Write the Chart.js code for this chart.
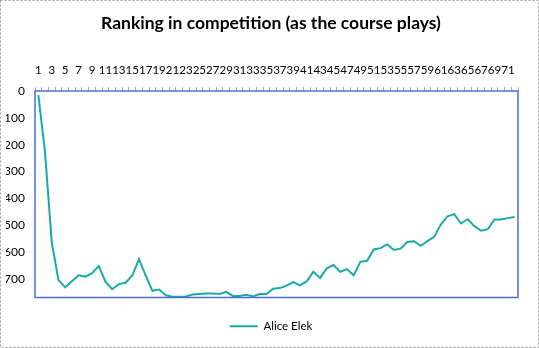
<!DOCTYPE html>
<html>
<head>
<meta charset="utf-8">
<script src="https://cdn.jsdelivr.net/npm/chart.js@4/dist/chart.umd.min.js"></script>
<style>
    html, body { margin: 0; padding: 0; background: #fff; }
    #wrap { width: 539px; height: 348px; position: relative; }
</style>
</head>
<body>
<div id="wrap"><canvas id="rankChart" width="539" height="348"></canvas></div>
<script>
// round number of each competition day
const rounds = Array.from({ length: 72 }, (_, i) => String(i + 1));

// ranking after each round (lower on the chart = worse)
const ranking = [
    15, 230, 565, 705, 732, 709, 687, 692, 679, 653,
    711, 739, 720, 715, 688, 627, 688, 745, 740, 762,
    767, 767, 766, 759, 757, 755, 755, 757, 749, 764,
    764, 760, 766, 757, 757, 737, 735, 726, 713, 725,
    710, 674, 697, 661, 649, 674, 664, 687, 637, 633,
    591, 586, 572, 593, 588, 563, 560, 577, 560, 544,
    498, 467, 459, 494, 478, 504, 521, 515, 479, 479,
    474, 470
];

const yTicks = [0, 100, 200, 300, 400, 500, 600, 700];
const yMax = 770;

const lineColor = '#1aaba7';
const fontFamily = 'Lato, "Open Sans", sans-serif';

// plot frame + dashed outer border like the spreadsheet export
const framePlugin = {
    id: 'frame',
    afterDatasetsDraw(chart) {
        const { ctx, chartArea: a } = chart;
        ctx.save();
        ctx.strokeStyle = '#4a6fd6';
        ctx.lineWidth = 1.5;
        ctx.strokeRect(a.left, a.top, a.right - a.left, a.bottom - a.top);
        ctx.restore();
    },
    afterDraw(chart) {
        const { ctx, width, height } = chart;
        ctx.save();
        ctx.strokeStyle = '#9a9a9a';
        ctx.lineWidth = 1;
        ctx.setLineDash([2, 2]);
        ctx.strokeRect(0.5, 0.5, width - 1, height - 1);
        ctx.restore();
    }
};

// empty axis used only to reserve space
const spacer = (position, fit) => ({
    type: 'category',
    position,
    grid: { display: false, drawTicks: false },
    border: { display: false },
    ticks: { display: false },
    afterFit: fit
});

new Chart(document.getElementById('rankChart'), {
    type: 'line',
    data: {
        labels: rounds,
        datasets: [{
            label: 'Alice Elek',
            data: ranking,
            xAxisID: 'x',
            yAxisID: 'y',
            borderColor: lineColor,
            backgroundColor: lineColor,
            borderWidth: 2,
            pointRadius: 0,
            tension: 0,
            fill: false
        }]
    },
    options: {
        responsive: false,
        animation: false,
        layout: { padding: { left: 6, right: 3, top: 0, bottom: 6 } },
        plugins: {
            title: {
                display: true,
                text: 'Ranking in competition (as the course plays)',
                color: '#000',
                font: { family: fontFamily, size: 17.5, weight: 'bold' },
                padding: { top: 13, bottom: 10 }
            },
            legend: {
                position: 'bottom',
                labels: {
                    color: '#000',
                    font: { family: fontFamily, size: 11.5 },
                    boxWidth: 28,
                    boxHeight: 2,
                    padding: 14,
                    generateLabels: chart =>
                        Chart.defaults.plugins.legend.labels.generateLabels(chart)
                            .map(l => ({ ...l, lineWidth: 0 }))
                }
            },
            tooltip: { enabled: false }
        },
        scales: {
            x: {
                position: 'top',
                offset: true,
                grid: {
                    offset: true,
                    drawOnChartArea: false,
                    tickLength: 4,
                    color: '#aaa'
                },
                border: { display: false },
                ticks: {
                    autoSkip: false,
                    maxRotation: 0,
                    minRotation: 0,
                    padding: 10,
                    color: '#000',
                    font: { family: fontFamily, size: 11.5 },
                    callback: (v, i) => (i % 2 === 0 ? rounds[i] : '')
                },
                afterFit: s => { s.height = 47; }
            },
            y: {
                reverse: true,
                min: 0,
                max: yMax,
                afterBuildTicks: s => { s.ticks = yTicks.map(v => ({ value: v })); },
                grid: { display: false, drawTicks: false },
                border: { display: false },
                ticks: {
                    padding: 10,
                    color: '#000',
                    font: { family: fontFamily, size: 12 }
                },
                afterFit: s => { s.width = 29; }
            },
            gapBottom: spacer('bottom', s => { s.height = 9; }),
            gapRight: spacer('right', s => { s.width = 18; })
        }
    },
    plugins: [framePlugin]
});
</script>
</body>
</html>
